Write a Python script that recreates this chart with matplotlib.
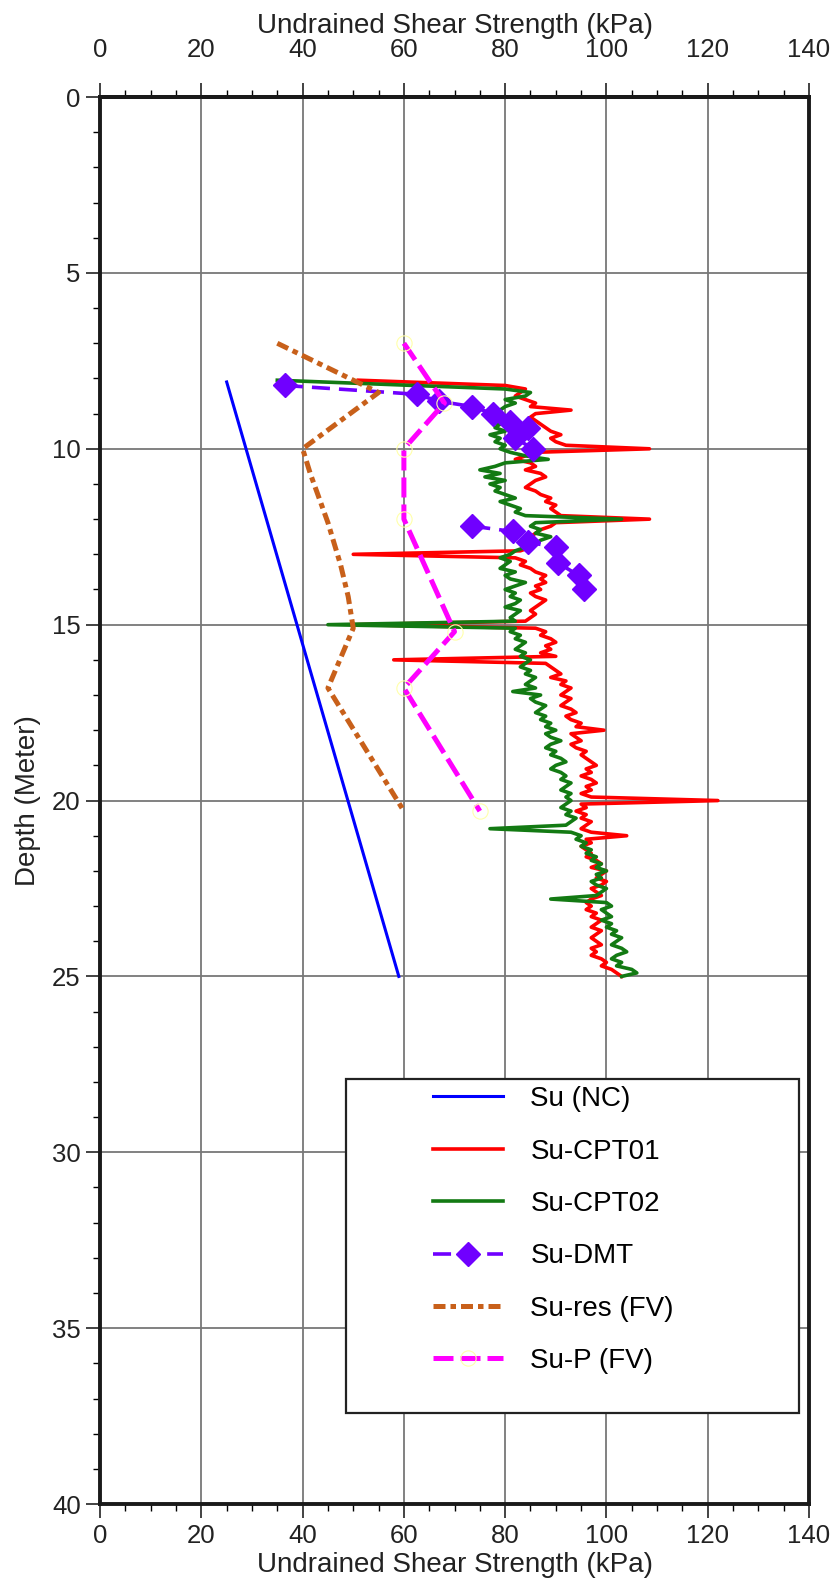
import numpy as np
import matplotlib
matplotlib.use("Agg")
import matplotlib.pyplot as plt
from matplotlib.patches import Rectangle
from matplotlib.ticker import MultipleLocator, FixedLocator

plt.rcParams['font.family'] = ['Liberation Sans', 'DejaVu Sans']

# --- data (depth in m, undrained shear strength in kPa) ---
x_ticks = [0, 20, 40, 60, 80, 100, 120, 140]

nc_depth = [8.1, 25.0]
nc_su = [25.0, 59.0]

cpt01_depth = [8.05, 8.2, 8.3, 8.4, 8.5, 8.6, 8.7, 8.8, 8.9, 9.0,
               9.1, 9.2, 9.3, 9.4, 9.5, 9.6, 9.7, 9.8, 9.9, 10.0,
               10.1, 10.2, 10.3, 10.4, 10.5, 10.6, 10.7, 10.8, 10.9, 11.0,
               11.1, 11.2, 11.3, 11.4, 11.5, 11.6, 11.7, 11.8, 11.9, 12.0,
               12.1, 12.2, 12.3, 12.4, 12.5, 12.6, 12.7, 12.8, 12.9, 13.0,
               13.1, 13.2, 13.3, 13.4, 13.5, 13.6, 13.7, 13.8, 13.9, 14.0,
               14.1, 14.2, 14.3, 14.4, 14.5, 14.6, 14.7, 14.8, 14.9, 15.0,
               15.1, 15.2, 15.3, 15.4, 15.5, 15.6, 15.7, 15.8, 15.9, 16.0,
               16.1, 16.2, 16.3, 16.4, 16.5, 16.6, 16.7, 16.8, 16.9, 17.0,
               17.1, 17.2, 17.3, 17.4, 17.5, 17.6, 17.7, 17.8, 17.9, 18.0,
               18.1, 18.2, 18.3, 18.4, 18.5, 18.6, 18.7, 18.8, 18.9, 19.0,
               19.1, 19.2, 19.3, 19.4, 19.5, 19.6, 19.7, 19.8, 19.9, 20.0,
               20.1, 20.2, 20.3, 20.4, 20.5, 20.6, 20.7, 20.8, 20.9, 21.0,
               21.1, 21.2, 21.3, 21.4, 21.5, 21.6, 21.7, 21.8, 21.9, 22.0,
               22.1, 22.2, 22.3, 22.4, 22.5, 22.6, 22.7, 22.8, 22.9, 23.0,
               23.1, 23.2, 23.3, 23.4, 23.5, 23.6, 23.7, 23.8, 23.9, 24.0,
               24.1, 24.2, 24.3, 24.4, 24.5, 24.6, 24.7, 24.8, 24.9, 25.0]
cpt01_su = [51, 80, 84, 83, 82, 84, 86, 85, 93, 86,
            85, 86, 87, 88, 89, 91, 89, 90, 92, 108.5,
            86, 84, 82, 85, 86, 84, 87, 88, 86, 85,
            84, 86, 87, 89, 88, 90, 89, 90, 91, 108.5,
            90, 89, 87, 86, 85, 86, 84, 85, 83, 50,
            82, 84, 83, 85, 86, 88, 87, 88, 86, 87,
            85, 86, 88, 87, 86, 85, 86, 85, 84, 50.5,
            86, 88, 87, 89, 90, 88, 89, 87, 90, 58,
            88, 89, 90, 91, 89, 92, 91, 93, 92, 91,
            93, 92, 91, 93, 94, 92, 93, 95, 94, 99.5,
            93, 94, 95, 93, 94, 96, 95, 96, 97, 98,
            96, 97, 95, 97, 98, 96, 97, 95, 97, 122,
            95, 96, 94, 96, 95, 97, 96, 95, 97, 104,
            96, 97, 95, 96, 97, 96, 98, 99, 97, 100,
            99, 98, 100, 99, 97, 98, 99, 97, 96, 97,
            96, 98, 97, 99, 98, 97, 99, 98, 97, 98,
            99, 97, 98, 97, 99, 100, 99, 101, 102, 103]

cpt02_depth = [8.05, 8.3, 8.4, 8.5, 8.6, 8.7, 8.8, 8.9, 9.0,
               9.1, 9.2, 9.3, 9.4, 9.5, 9.6, 9.7, 9.8, 9.9, 10.0,
               10.1, 10.2, 10.3, 10.4, 10.5, 10.6, 10.7, 10.8, 10.9, 11.0,
               11.1, 11.2, 11.3, 11.4, 11.5, 11.6, 11.7, 11.8, 11.9, 12.0,
               12.1, 12.2, 12.3, 12.4, 12.5, 12.6, 12.7, 12.8, 12.9, 13.0,
               13.1, 13.2, 13.3, 13.4, 13.5, 13.6, 13.7, 13.8, 13.9, 14.0,
               14.1, 14.2, 14.3, 14.4, 14.5, 14.6, 14.7, 14.8, 14.9, 15.0,
               15.1, 15.2, 15.3, 15.4, 15.5, 15.6, 15.7, 15.8, 15.9, 16.0,
               16.1, 16.2, 16.3, 16.4, 16.5, 16.6, 16.7, 16.8, 16.9, 17.0,
               17.1, 17.2, 17.3, 17.4, 17.5, 17.6, 17.7, 17.8, 17.9, 18.0,
               18.1, 18.2, 18.3, 18.4, 18.5, 18.6, 18.7, 18.8, 18.9, 19.0,
               19.1, 19.2, 19.3, 19.4, 19.5, 19.6, 19.7, 19.8, 19.9, 20.0,
               20.1, 20.2, 20.3, 20.4, 20.5, 20.6, 20.7, 20.8, 20.9, 21.0,
               21.1, 21.2, 21.3, 21.4, 21.5, 21.6, 21.7, 21.8, 21.9, 22.0,
               22.1, 22.2, 22.3, 22.4, 22.5, 22.6, 22.7, 22.8, 22.9, 23.0,
               23.1, 23.2, 23.3, 23.4, 23.5, 23.6, 23.7, 23.8, 23.9, 24.0,
               24.1, 24.2, 24.3, 24.4, 24.5, 24.6, 24.7, 24.8, 24.9, 25.0]
cpt02_su = [35, 80, 85, 84, 80, 82, 80, 79, 78,
            80, 77, 79, 78, 80, 77, 79, 78, 80, 79,
            81, 84, 88.5, 80, 78, 75, 79, 76, 80, 77,
            79, 78, 80, 82, 79, 81, 83, 82, 84, 103,
            86, 85, 87, 86, 89, 87, 86, 84, 82, 81,
            79, 81, 80, 79, 82, 80, 81, 84, 82, 80,
            82, 81, 83, 82, 80, 83, 82, 81, 82, 45,
            82, 81, 83, 82, 84, 83, 82, 84, 83, 85,
            84, 83, 85, 84, 86, 85, 84, 86, 81.5, 87,
            85, 86, 88, 87, 86, 88, 87, 89, 88, 90,
            88, 89, 91, 89, 88, 90, 89, 91, 92, 90,
            89, 91, 92, 91, 93, 92, 91, 93, 92, 93,
            92, 91, 93, 92, 94, 93, 92, 77, 93, 95,
            94, 96, 95, 97, 96, 98, 97, 99, 98, 100,
            98, 99, 97, 98, 100, 99, 98, 89, 100, 101,
            99, 100, 101, 99, 101, 100, 102, 101, 103, 102,
            101, 103, 104, 102, 101, 103, 102, 105, 106, 103]

dmt_depth = [8.2, 8.45, 8.65, 8.8, 9.0, 9.25, 9.4, 9.7, 10.0, np.nan,
             12.2, 12.35, 12.65, 12.8, 13.25, 13.6, 14.0]
dmt_su = [36.5, 62.5, 67.0, 73.5, 77.5, 81.0, 84.5, 82.0, 85.5, np.nan,
          73.5, 81.5, 84.5, 90.0, 90.5, 94.5, 95.5]

res_depth = [7.0, 8.4, 10.0, 10.7, 12.1, 13.3, 14.2, 15.1, 16.8, 20.3]
res_su = [35, 55, 40, 41.5, 45, 47.5, 49, 50, 45, 60]

peak_depth = [7.0, 8.7, 10.0, 12.0, 15.2, 16.8, 20.3]
peak_su = [60, 68, 60, 60, 70, 60, 75]

fig = plt.figure(figsize=(8.34, 15.96), dpi=100)
ax = fig.add_axes([0.12, 0.0576, 0.85, 0.8816])

ax.plot(nc_su, nc_depth, color='#0000FF', lw=2.2, label='Su (NC)', zorder=3)
ax.plot(cpt01_su, cpt01_depth, color='#FF0000', lw=2.6, label='Su-CPT01', zorder=3)
ax.plot(cpt02_su, cpt02_depth, color='#137A13', lw=2.6, label='Su-CPT02', zorder=3)
ax.plot(dmt_su, dmt_depth, color='#7000FF', lw=2.6, ls=(0, (5, 2.5)),
        marker='D', ms=12, label='Su-DMT', zorder=4)
ax.plot(res_su, res_depth, color='#C8601A', lw=3.6, ls=(0, (2.4, 1.0, 1.1, 1.0)),
        label='Su-res (FV)', zorder=4)
ax.plot(peak_su, peak_depth, color='#FF00FF', lw=3.6, ls=(0, (4, 1.4)),
        marker='o', ms=11, mfc='none', mec='#FFFFAA', mew=0.8,
        label='Su-P (FV)', zorder=4)

ax.set_xlim(0, 140)
ax.set_ylim(40, 0)
ax.xaxis.set_major_locator(FixedLocator(x_ticks))
ax.xaxis.set_minor_locator(MultipleLocator(5))
ax.yaxis.set_major_locator(MultipleLocator(5))
ax.yaxis.set_minor_locator(MultipleLocator(1))
ax.grid(True, which='major', color='#777777', lw=1.3)
ax.set_axisbelow(True)

for s in ax.spines.values():
    s.set_linewidth(2.8)
    s.set_color('#1a1a1a')

fs = 20
tfs = 18.5
ax.tick_params(which='major', direction='out', length=10, width=1.2, labelsize=tfs,
               top=False, right=False, pad=4, colors='#222222')
ax.tick_params(which='minor', direction='out', length=5, width=1.0,
               top=False, right=False)
ax.set_xlabel('Undrained Shear Strength (kPa)', fontsize=fs, color='#222222', labelpad=3)
ax.set_ylabel('Depth (Meter)', fontsize=fs, color='#222222', labelpad=8)

top = ax.secondary_xaxis('top')
top.set_xticks(x_ticks)
top.xaxis.set_minor_locator(MultipleLocator(5))
top.tick_params(which='major', direction='out', length=10, width=1.2, labelsize=tfs,
                pad=15, colors='#222222')
top.tick_params(which='minor', direction='out', length=5, width=1.0)
top.set_xlabel('Undrained Shear Strength (kPa)', fontsize=fs, color='#222222', labelpad=4)
top.spines['top'].set_linewidth(2.8)

# legend box
ax.add_patch(Rectangle((0.347, 0.065), 0.639, 0.237, transform=ax.transAxes,
                       facecolor='white', edgecolor='#222222', lw=1.6, zorder=5))
leg = ax.legend(loc='upper left', bbox_to_anchor=(0.47, 0.297), frameon=False,
                fontsize=fs, borderpad=0, labelspacing=0.95, handlelength=2.5,
                handletextpad=1.0, borderaxespad=0)
leg.set_zorder(6)

fig.savefig('out.png', dpi=100)
